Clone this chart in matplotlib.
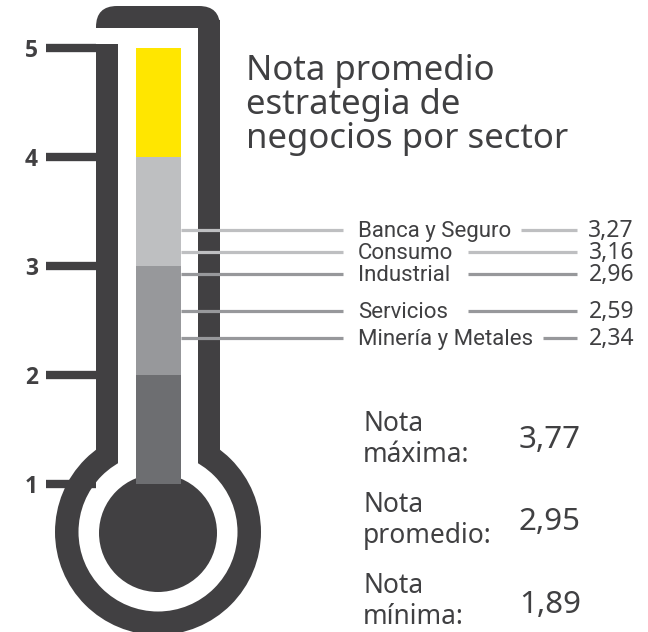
import matplotlib
matplotlib.use("Agg")
import matplotlib.pyplot as plt
from matplotlib.patches import Circle, Rectangle, FancyBboxPatch
from matplotlib import transforms

# ---------------- data ----------------
sectors = ["Banca y Seguro", "Consumo", "Industrial", "Servicios", "Minería y Metales"]
scores = [3.27, 3.16, 2.96, 2.59, 2.34]
scale_ticks = [1, 2, 3, 4, 5]
band_edges = [1, 2, 3, 4, 5]
band_colors = ["#6D6E71", "#97989B", "#BEBFC1", "#FFE600"]
stat_names = ["máxima:", "promedio:", "mínima:"]
stat_values = [3.77, 2.95, 1.89]
title_lines = ["Nota promedio", "estrategia de", "negocios por sector"]

# ---------------- layout / style ----------------
W, H = 648, 632
DARK = "#414042"
TEXT = "#404042"
HUM = ["Noto Sans", "Open Sans", "DejaVu Sans"]
BOLD = ["Open Sans", "DejaVu Sans"]
NARROW = ["Roboto", "Liberation Sans", "DejaVu Sans"]


def fmt(v):
    return f"{v:.2f}".replace(".", ",")


def spread(vals, gap):
    pos = list(vals)
    for _ in range(200):
        moved = False
        for i in range(1, len(pos)):
            d = pos[i - 1] - pos[i]
            if d < gap - 1e-9:
                s = (gap - d) / 2
                pos[i - 1] += s
                pos[i] -= s
                moved = True
        if not moved:
            break
    return pos


fig = plt.figure(figsize=(W / 100, H / 100), dpi=100)
fig.patch.set_facecolor("white")

# pixel axes for the thermometer body and free text
axp = fig.add_axes([0, 0, 1, 1])
axp.set_xlim(0, W)
axp.set_ylim(H, 0)
axp.axis("off")

# value axes (y in score units)
PX_PER_UNIT = 109.1
Y1 = 484.0
X0 = 96
ax = fig.add_axes([X0 / W, 0, 1 - X0 / W, 1])
ax.set_xlim(X0, W)
ax.set_ylim(1 - (H - Y1) / PX_PER_UNIT, 1 + Y1 / PX_PER_UNIT)
ax.patch.set_alpha(0)
for s in ax.spines.values():
    s.set_visible(False)
ax.set_xticks([])
ax.set_yticks(scale_ticks)
ax.set_yticklabels([str(t) for t in scale_ticks])
ax.tick_params(axis="y", length=36, width=6, color=DARK, pad=5.8,
               labelsize=16.5, labelcolor=DARK)
for lab in ax.get_yticklabels():
    lab.set_fontweight("bold")
    lab.set_fontfamily(BOLD)

# ---------------- thermometer body ----------------
CX, CY = 158, 532
axp.add_patch(Circle((CX, CY), 103, fc=DARK, ec="none"))
axp.add_patch(FancyBboxPatch((96, 6), 124, 44, boxstyle="round,pad=0,rounding_size=21",
                             fc=DARK, ec="none"))
axp.add_patch(Rectangle((198, 20), 22, CY - 20, fc=DARK, ec="none"))
axp.add_patch(Rectangle((96, 44), 22, CY - 44, fc=DARK, ec="none"))
axp.add_patch(Rectangle((95, 28), 23, 16, fc="white", ec="none"))
axp.add_patch(Rectangle((118, 28), 80, CY - 28, fc="white", ec="none"))
axp.add_patch(Circle((CX, CY), 79.5, fc="white", ec="none"))
axp.add_patch(Circle((CX, CY + 1), 59, fc=DARK, ec="none"))

# mercury column bands
ax.bar([158.5] * len(band_colors),
       [band_edges[i + 1] - band_edges[i] for i in range(len(band_colors))],
       bottom=band_edges[:-1], width=45, color=band_colors, linewidth=0, zorder=2)

# ---------------- sector leader lines ----------------
pos = spread(scores, 22 / PX_PER_UNIT)
off = transforms.offset_copy(ax.transData, fig=fig, x=0, y=-7, units="dots")


def band_color(v):
    for i in range(len(band_colors)):
        if band_edges[i] <= v < band_edges[i + 1]:
            return band_colors[i]
    return band_colors[-1]


labels = []
for name, v, p in zip(sectors, scores, pos):
    c = band_color(v)
    ax.hlines(p, 181, 343, colors=c, lw=2.3, zorder=3)
    t = ax.text(358, p, name, transform=off, va="baseline", ha="left",
                fontsize=16, family=NARROW, color=TEXT)
    ax.text(634, p, fmt(v), transform=off, va="baseline", ha="right",
            fontsize=16.5, family=HUM, color=TEXT)
    labels.append((t, p, c))

fig.canvas.draw()
r = fig.canvas.get_renderer()
inv = ax.transData.inverted()
for t, p, c in labels:
    bb = t.get_window_extent(renderer=r)
    xend = inv.transform((bb.x1, 0))[0]
    ax.hlines(p, max(468, xend + 10), 577, colors=c, lw=2.3, zorder=3)

# ---------------- title ----------------
for i, line in enumerate(title_lines):
    axp.text(246, 80.5 + i * 33.5, line, va="baseline", ha="left",
             fontsize=25, family=HUM, color=TEXT)

# ---------------- stats ----------------
for i, (nm, v) in enumerate(zip(stat_names, stat_values)):
    yb = 431.0 + i * 81.0
    axp.text(363, yb, "Nota", va="baseline", ha="left", fontsize=19,
             family=HUM, color=TEXT)
    axp.text(363, yb + 31.0, nm, va="baseline", ha="left", fontsize=19,
             family=HUM, color=TEXT)
    axp.text(519, 448.0 + i * 82.5, fmt(v), va="baseline", ha="left",
             fontsize=22.5, family=HUM, color=TEXT)

fig.savefig("out.png", dpi=100, facecolor="white")
